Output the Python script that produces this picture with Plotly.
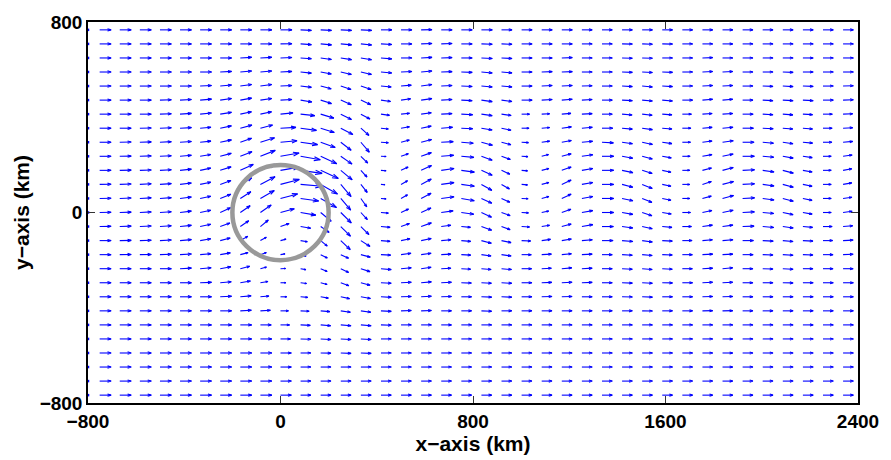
import math
import plotly.graph_objects as go
import plotly.figure_factory as ff

# Grid of the wind field (km). Columns west -> east, rows north -> south.
x_km = [-751.5, -668, -584.5, -501, -417.5, -334, -250.5, -167, -83.5,
        0,
        83.5, 167, 250.5, 334, 417.5, 501, 584.5,
        668, 751.5, 835, 918.5, 1002, 1085.5, 1169,
        1252.5, 1336, 1419.5, 1503, 1586.5, 1670, 1753.5,
        1837, 1920.5, 2004, 2087.5, 2171, 2254.5, 2338]
y_km = [767, 708, 649, 590, 531, 472, 413, 354, 295, 236, 177, 118, 59,
        0,
        -59, -118, -177, -236, -295, -354, -413, -472, -531, -590, -649, -708, -767]

# Wind direction (degrees, counter-clockwise from east), one list per row.
angle_deg = [
    [0, 0, 0, 0, 0, 0, 0, 0, 0, 0, -3, -3, -3, -3, 0, 0, 1, 0, 0, 0, 0, 0, 0, 0, 0, 0, 0, 0, 0, 0, 0, 0, 0, 0, 0, 0, 0, 0],
    [0, 0, 0, 0, 0, 0, 0, 0, 0, 1, -4, -5, -5, -6, -3, 0, 2, 2, 0, -2, -2, 0, 0, 0, 0, 0, -1, -2, -1, 0, 0, 0, 0, 0, 0, 0, 0, 0],
    [0, 0, 0, 0, 0, 0, 0, 3, 3, 2, -4, -8, -9, -10, -5, 0, 3, 2, 0, -3, -3, 0, 0, 2, 0, 0, -2, -2, 0, 0, 2, 0, 0, 0, 0, 0, 0, 0],
    [0, 0, 0, 0, 0, 0, 3, 5, 5, 3, -6, -11, -13, -13, -5, 3, 5, 2, -2, -5, -5, 0, 2, 2, 0, 0, -2, -3, -2, 0, 3, 3, 0, 0, -2, 0, 0, 0],
    [0, 0, 0, 0, 0, 3, 5, 8, 8, 3, -7, -15, -19, -19, -5, 5, 8, 3, -2, -5, -5, 0, 3, 3, 2, 0, -3, -5, -3, 0, 3, 3, 0, -2, -3, -2, 0, 2],
    [0, 0, 0, 2, 3, 5, 8, 10, 8, 3, -10, -18, -24, -25, -8, 8, 8, 3, -3, -8, -8, 0, 3, 5, 3, 0, -3, -5, -5, 0, 5, 5, 0, -3, -3, -3, 0, 2],
    [0, 0, 0, 2, 4, 6, 9, 12, 12, 6, -6, -17, -27, -28, -8, 6, 8, 3, -3, -8, -8, 0, 3, 5, 3, 0, -5, -6, -4, 0, 4, 4, 0, -3, -4, -3, 0, 2],
    [0, 0, 1, 2, 3, 5, 12, 15, 15, 3, -8, -18, -28, -42, -6, 10, 12, 5, -3, -10, -12, 0, 5, 8, 5, 0, -5, -8, -5, 0, 5, 5, 0, -3, -5, -5, 0, 3],
    [0, 1, 2, 3, 4, 6, 12, 20, 18, 5, -8, -20, -38, -50, -4, 15, 15, 3, -5, -15, -15, -3, 8, 10, 5, -3, -8, -12, -8, 0, 8, 8, 0, -5, -8, -5, 0, 5],
    [0, 1, 2, 3, 5, 10, 15, 22, 22, 10, -10, -25, -35, -45, -3, 20, 20, 5, -5, -20, -20, -3, 15, 15, 8, 0, -10, -15, -10, 0, 10, 12, 0, -5, -10, -8, 0, 8],
    [0, 1, 2, 3, 6, 12, 18, 25, 22, 10, -8, -25, -40, -48, -5, 25, 25, 8, -8, -25, -25, -5, 15, 20, 10, 0, -12, -18, -12, 0, 15, 15, 3, -8, -15, -10, 0, 10],
    [1, 2, 3, 4, 7, 12, 20, 30, 28, 15, -5, -30, -50, -52, -5, 30, 28, 8, -8, -30, -30, -5, 15, 25, 10, 0, -15, -22, -12, 0, 18, 15, 3, -8, -15, -12, 0, 10],
    [1, 2, 3, 4, 7, 12, 22, 33, 30, 15, -8, -30, -50, -55, -5, 30, 28, 8, -10, -25, -25, -3, 15, 25, 10, 0, -12, -22, -12, 0, 15, 15, 3, -8, -15, -12, 0, 8],
    [1, 2, 3, 4, 7, 12, 25, 35, 35, 15, -10, -40, -45, -48, -5, 25, 25, 8, -8, -25, -20, -3, 12, 20, 10, 0, -10, -18, -10, 0, 12, 12, 3, -5, -12, -10, 0, 8],
    [1, 2, 3, 4, 6, 12, 20, 35, 40, 20, -10, -35, -45, -45, -5, 20, 20, 8, -5, -20, -20, -3, 10, 15, 10, 0, -8, -12, -5, 0, 8, 8, 2, -5, -8, -5, 0, 5],
    [0, 1, 2, 3, 5, 10, 15, 30, 30, 15, -10, -40, -44, -33, -5, 12, 12, 5, -5, -15, -12, -3, 8, 10, 5, 0, -5, -8, -3, 0, 5, 5, 0, -3, -5, -3, 0, 3],
    [0, 1, 1, 2, 3, 5, 10, 15, 20, 10, -15, -27, -25, -15, -3, 8, 8, 3, -3, -8, -8, 0, 3, 5, 3, 0, -3, -5, -2, 0, 3, 3, 0, -2, -3, -2, 0, 2],
    [0, 0, 0, 0, 3, 5, 10, 15, 15, 3, -10, -24, -26, -18, -5, 5, 8, 3, -3, -5, -5, 0, 3, 5, 3, 0, -3, -5, -3, 0, 3, 5, 0, -2, -3, 0, 0, 0],
    [0, 0, 0, 0, 0, 2, 5, 10, 10, 0, -7, -15, -20, -15, -3, 3, 5, 3, -2, -3, -3, 0, 2, 3, 2, 0, -2, -3, -1, 0, 3, 3, 0, 0, -1, 0, 0, 0],
    [0, 0, 0, 0, 0, 0, 3, 5, 5, 0, -5, -10, -12, -10, -3, 2, 3, 2, 0, -2, -2, 0, 2, 2, 0, 0, -1, -2, 0, 0, 2, 2, 0, 0, 0, 0, 0, 0],
    [0, 0, 0, 0, 0, 0, 0, 3, 3, 0, -3, -5, -8, -8, -3, 2, 2, 0, 0, -2, 0, 0, 0, 0, 0, 0, 0, -1, 0, 0, 1, 1, 0, 0, 0, 0, 0, 0],
    [0, 0, 0, 0, 0, 0, 0, 0, 0, 0, -3, -5, -5, -5, -2, 0, 0, 0, 0, 0, 0, 0, 0, 0, 0, 0, 0, 0, 0, 0, 0, 0, 0, 0, 0, 0, 0, 0],
    [0, 0, 0, 0, 0, 0, 0, 0, 0, 0, -2, -3, -3, -3, 0, 0, 0, 0, 0, 0, 0, 0, 0, 0, 0, 0, 0, 0, 0, 0, 0, 0, 0, 0, 0, 0, 0, 0],
    [0, 0, 0, 0, 0, 0, 0, 0, 0, 0, 0, -1, -2, -2, 0, 0, 0, 0, 0, 0, 0, 0, 0, 0, 0, 0, 0, 0, 0, 0, 0, 0, 0, 0, 0, 0, 0, 0],
    [0, 0, 0, 0, 0, 0, 0, 0, 0, 0, 0, 0, 0, 0, 0, 0, 0, 0, 0, 0, 0, 0, 0, 0, 0, 0, 0, 0, 0, 0, 0, 0, 0, 0, 0, 0, 0, 0],
    [0, 0, 0, 0, 0, 0, 0, 0, 0, 0, 0, 0, 0, 0, 0, 0, 0, 0, 0, 0, 0, 0, 0, 0, 0, 0, 0, 0, 0, 0, 0, 0, 0, 0, 0, 0, 0, 0],
    [0, 0, 0, 0, 0, 0, 0, 0, 0, 0, 0, 0, 0, 0, 0, 0, 0, 0, 0, 0, 0, 0, 0, 0, 0, 0, 0, 0, 0, 0, 0, 0, 0, 0, 0, 0, 0, 0],
]

# Wind speed (percent of the undisturbed inflow), one list per row.
speed_pct = [
    [100, 100, 100, 100, 100, 100, 100, 100, 100, 100, 95, 95, 95, 95, 95, 95, 95, 95, 95, 95, 92, 92, 92, 92, 90, 90, 90, 90, 90, 90, 90, 90, 90, 90, 90, 90, 90, 90],
    [100, 100, 100, 100, 100, 100, 100, 100, 100, 100, 95, 95, 95, 95, 95, 95, 95, 95, 95, 95, 92, 92, 92, 92, 90, 90, 90, 90, 90, 90, 90, 90, 90, 90, 90, 90, 90, 90],
    [100, 100, 100, 100, 100, 100, 100, 100, 100, 100, 95, 95, 95, 95, 95, 95, 95, 95, 95, 95, 92, 92, 92, 92, 90, 90, 90, 90, 90, 90, 90, 90, 90, 90, 90, 90, 90, 90],
    [100, 100, 100, 100, 100, 100, 100, 100, 100, 100, 95, 95, 95, 95, 95, 95, 95, 95, 95, 95, 92, 92, 92, 92, 90, 90, 90, 90, 90, 90, 90, 90, 90, 90, 90, 90, 90, 90],
    [100, 100, 100, 100, 100, 100, 100, 100, 100, 100, 95, 95, 95, 95, 90, 90, 95, 95, 95, 95, 92, 92, 92, 92, 90, 90, 90, 90, 90, 90, 90, 90, 90, 90, 90, 90, 90, 90],
    [100, 100, 100, 100, 100, 100, 100, 100, 100, 100, 100, 100, 100, 95, 85, 85, 95, 95, 95, 95, 92, 92, 92, 92, 90, 90, 90, 90, 90, 90, 90, 90, 90, 90, 90, 90, 90, 90],
    [100, 100, 100, 100, 100, 100, 100, 100, 100, 110, 125, 120, 105, 90, 75, 75, 90, 95, 100, 95, 85, 70, 70, 80, 90, 90, 88, 88, 85, 80, 85, 90, 92, 90, 88, 85, 82, 85],
    [100, 100, 100, 100, 100, 95, 100, 105, 110, 135, 140, 125, 120, 95, 65, 75, 90, 100, 100, 95, 85, 65, 70, 85, 92, 95, 90, 90, 85, 75, 85, 92, 95, 92, 88, 85, 80, 85],
    [100, 100, 100, 100, 100, 95, 100, 105, 130, 145, 150, 135, 115, 115, 65, 75, 95, 105, 105, 100, 85, 60, 70, 85, 95, 100, 92, 92, 85, 72, 85, 95, 100, 95, 90, 85, 78, 85],
    [100, 100, 100, 100, 100, 95, 100, 110, 140, 165, 175, 155, 120, 85, 45, 68, 95, 110, 110, 100, 82, 55, 62, 85, 97, 103, 95, 92, 80, 68, 85, 95, 103, 97, 92, 82, 72, 80],
    [100, 100, 100, 100, 100, 95, 100, 125, 140, 165, 190, 170, 130, 80, 45, 68, 100, 113, 115, 104, 80, 52, 65, 87, 97, 103, 97, 92, 78, 65, 82, 97, 105, 100, 95, 82, 72, 78],
    [100, 100, 100, 100, 100, 95, 100, 115, 145, 170, 190, 170, 140, 90, 35, 65, 100, 113, 115, 105, 80, 52, 65, 90, 97, 103, 97, 95, 78, 65, 82, 100, 105, 100, 95, 82, 72, 78],
    [100, 100, 100, 100, 100, 95, 100, 110, 140, 155, 160, 160, 135, 90, 45, 65, 98, 113, 115, 100, 80, 57, 65, 90, 97, 103, 97, 92, 78, 65, 80, 100, 105, 100, 95, 82, 72, 78],
    [100, 100, 100, 100, 100, 95, 100, 105, 115, 125, 135, 120, 130, 85, 65, 72, 95, 105, 110, 97, 80, 60, 63, 85, 97, 103, 95, 90, 80, 72, 85, 95, 103, 97, 92, 82, 72, 80],
    [100, 100, 100, 100, 100, 95, 90, 90, 90, 80, 90, 90, 120, 100, 80, 78, 95, 85, 80, 95, 80, 70, 70, 85, 97, 100, 95, 90, 85, 80, 88, 92, 100, 97, 92, 85, 80, 85],
    [100, 100, 100, 100, 100, 95, 90, 75, 60, 50, 60, 75, 115, 95, 80, 80, 90, 85, 82, 90, 85, 80, 78, 85, 92, 97, 95, 90, 88, 85, 88, 92, 95, 92, 90, 88, 85, 88],
    [100, 100, 100, 100, 100, 95, 90, 70, 55, 40, 50, 65, 75, 85, 85, 88, 88, 85, 82, 85, 85, 85, 85, 85, 90, 90, 90, 88, 88, 88, 90, 90, 92, 90, 90, 88, 88, 88],
    [100, 100, 100, 100, 100, 97, 95, 85, 55, 45, 47, 62, 76, 84, 90, 90, 88, 85, 82, 85, 88, 88, 85, 88, 90, 90, 90, 88, 88, 88, 90, 90, 90, 90, 90, 88, 88, 88],
    [100, 100, 100, 100, 100, 100, 97, 90, 67, 47, 53, 58, 75, 83, 90, 90, 90, 90, 88, 88, 90, 90, 88, 90, 90, 90, 90, 90, 90, 90, 90, 90, 90, 90, 90, 90, 90, 90],
    [100, 100, 100, 100, 100, 100, 100, 95, 75, 55, 62, 68, 78, 85, 90, 90, 90, 90, 90, 90, 90, 90, 90, 90, 90, 90, 90, 90, 90, 90, 90, 90, 90, 90, 90, 90, 90, 90],
    [100, 100, 100, 100, 100, 100, 100, 97, 88, 70, 75, 80, 85, 88, 90, 90, 90, 90, 90, 90, 90, 90, 90, 90, 90, 90, 90, 90, 90, 90, 90, 90, 90, 90, 90, 90, 90, 90],
    [100, 100, 100, 100, 100, 100, 100, 100, 95, 80, 85, 88, 90, 90, 90, 90, 90, 90, 90, 90, 90, 90, 90, 90, 90, 90, 90, 90, 90, 90, 90, 90, 90, 90, 90, 90, 90, 90],
    [100, 100, 100, 100, 100, 100, 100, 100, 100, 88, 90, 90, 90, 90, 90, 90, 90, 90, 90, 90, 90, 90, 90, 90, 90, 90, 90, 90, 90, 90, 90, 90, 90, 90, 90, 90, 90, 90],
    [100, 100, 100, 100, 100, 100, 100, 100, 100, 95, 90, 90, 90, 90, 90, 90, 90, 90, 90, 90, 90, 90, 90, 90, 90, 90, 90, 90, 90, 90, 90, 90, 90, 90, 90, 90, 90, 90],
    [100, 100, 100, 100, 100, 100, 100, 100, 100, 95, 90, 90, 90, 90, 90, 90, 90, 90, 90, 90, 90, 90, 90, 90, 90, 90, 90, 90, 90, 90, 90, 90, 90, 90, 90, 90, 90, 90],
    [100, 100, 100, 100, 100, 100, 100, 100, 100, 95, 90, 90, 90, 90, 90, 90, 90, 90, 90, 90, 90, 90, 90, 90, 90, 90, 90, 90, 90, 90, 90, 90, 90, 90, 90, 90, 90, 90],
    [100, 100, 100, 100, 100, 100, 100, 100, 100, 95, 90, 90, 90, 90, 90, 90, 90, 90, 90, 90, 90, 90, 90, 90, 90, 90, 90, 90, 90, 90, 90, 90, 90, 90, 90, 90, 90, 90],
]

# Inflow boundary column (calm points on the western edge)
edge_x_km = -800

# Circular obstacle
circle_center_km = (0, 0)
circle_radius_km = 200

x_tick_vals = [-800, 0, 800, 1600, 2400]
x_tick_text = ["\u2212800", "0", "800", "1600", "2400"]
y_tick_vals = [-800, 0, 800]
y_tick_text = ["\u2212800", "0", "800"]

ARROW_KM = 47.5  # arrow length (km) for 100 % speed

xs, ys, us, vs = [], [], [], []
for j, yv in enumerate(y_km):
    for i, xv in enumerate(x_km):
        a = math.radians(angle_deg[j][i])
        s = speed_pct[j][i] / 100.0
        xs.append(xv)
        ys.append(yv)
        us.append(s * math.cos(a))
        vs.append(s * math.sin(a))

fig = ff.create_quiver(xs, ys, us, vs, scale=ARROW_KM, arrow_scale=0.33,
                       angle=math.pi / 10,
                       line=dict(color="#0000ff", width=1.1),
                       hoverinfo="skip", showlegend=False)

fig.add_trace(go.Scatter(x=[edge_x_km] * len(y_km), y=y_km, mode="markers",
                         marker=dict(color="#0000ff", size=2.5, symbol="square"),
                         cliponaxis=False, hoverinfo="skip", showlegend=False))

cx, cy = circle_center_km
fig.add_shape(type="circle", xref="x", yref="y",
              x0=cx - circle_radius_km, x1=cx + circle_radius_km,
              y0=cy - circle_radius_km, y1=cy + circle_radius_km,
              line=dict(color="#999999", width=4.5), layer="above")

font_tick = dict(family="Liberation Sans, Arial, sans-serif", size=19,
                 color="black", weight="bold")
font_title = dict(family="Liberation Sans, Arial, sans-serif", size=21,
                  color="black", weight="bold")

axis_common = dict(showgrid=False, zeroline=False, showline=True,
                   linecolor="black", linewidth=1.5, mirror="ticks",
                   ticks="inside", ticklen=7, tickwidth=1, tickcolor="#333333",
                   tickfont=font_tick)

fig.update_layout(
    width=891, height=460, autosize=False,
    margin=dict(l=88, r=25, t=18, b=56),
    paper_bgcolor="white", plot_bgcolor="white",
    showlegend=False,
    xaxis=dict(range=[-800, 2400], tickvals=x_tick_vals, ticktext=x_tick_text,
               title=dict(text="x\u2212axis (km)", font=font_title, standoff=2),
               **axis_common),
    yaxis=dict(range=[-800, 800], tickvals=y_tick_vals, ticktext=y_tick_text,
               title=dict(text="y\u2212axis (km)", font=font_title, standoff=4),
               **axis_common),
)

fig.write_html("out.html")
